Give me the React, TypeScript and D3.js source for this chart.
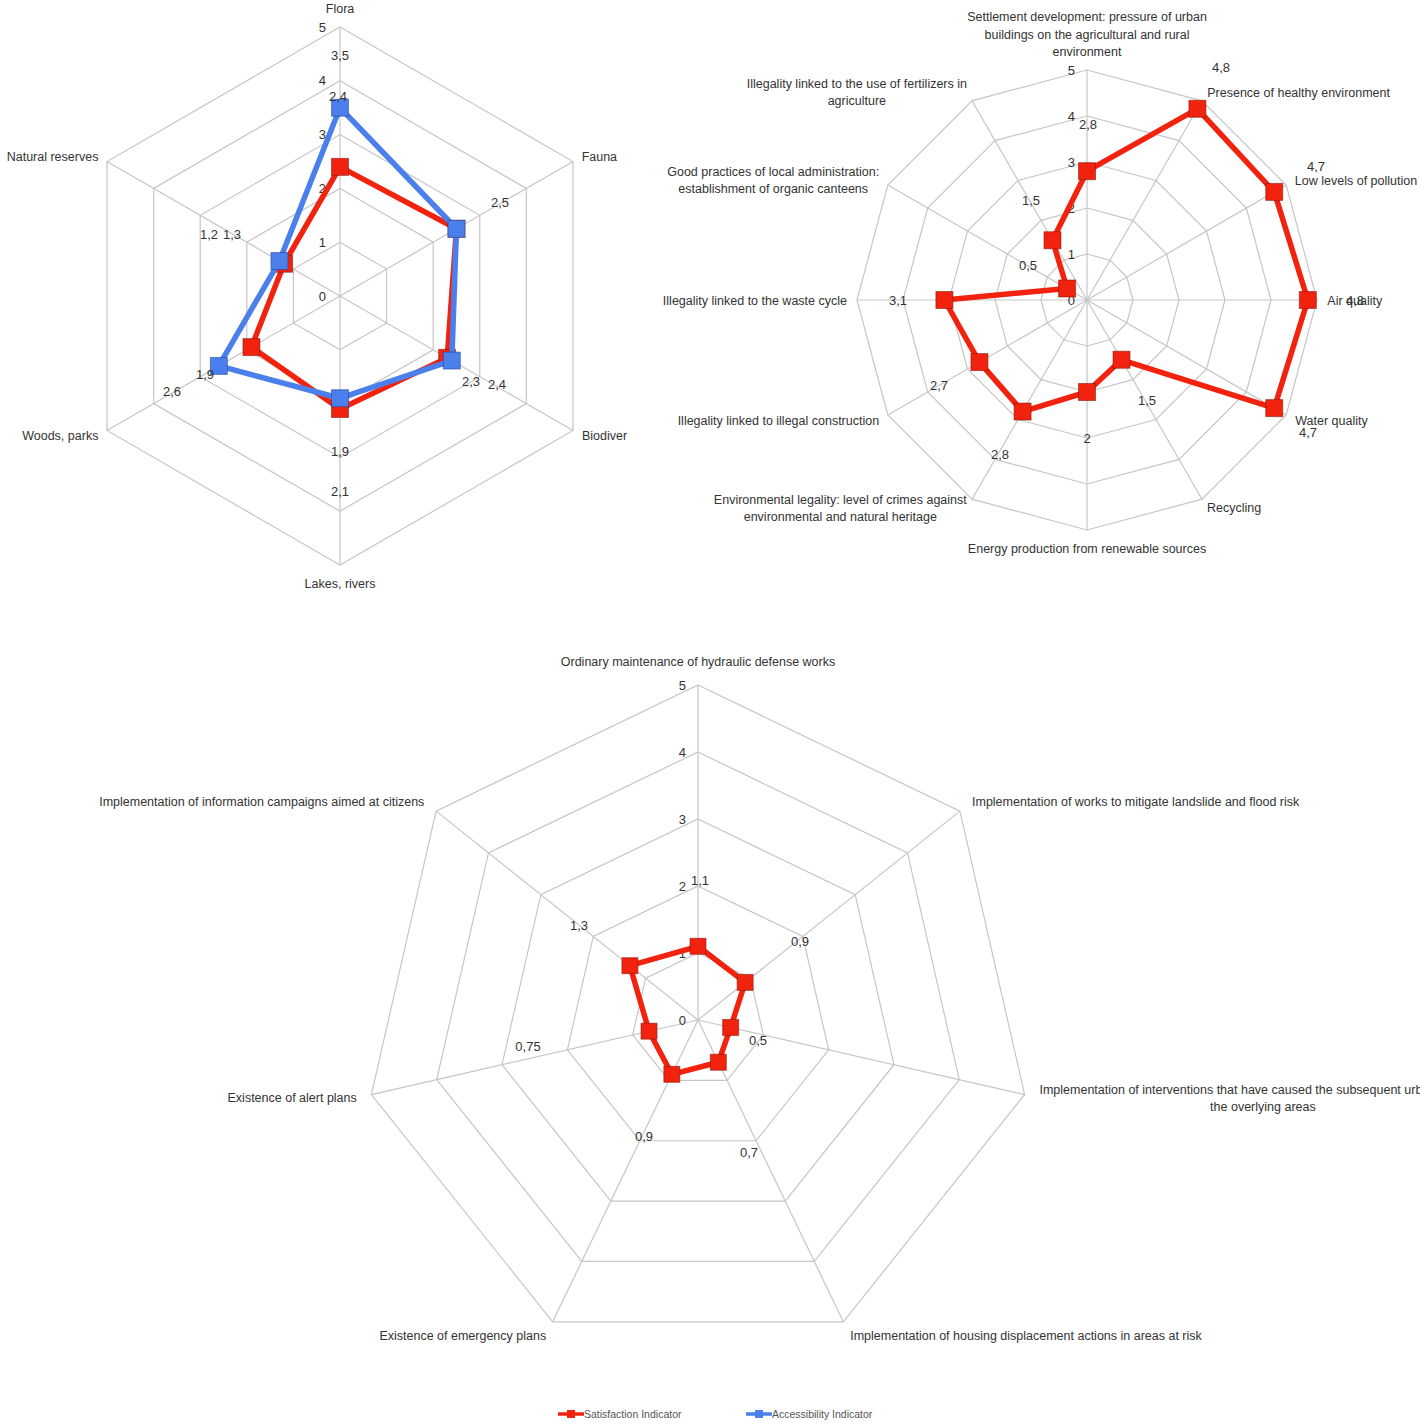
import React, { useEffect, useRef } from "react";
import * as d3 from "d3";

// ---- data ----
const ringValues = [1, 2, 3, 4, 5];
const tickValues = [0, 1, 2, 3, 4, 5];

const natureAxes = [
  ["Flora"],
  ["Fauna"],
  ["Biodiversity"],
  ["Lakes, rivers"],
  ["Woods, parks"],
  ["Natural reserves"],
];
const natureSatisfaction = [2.4, 2.5, 2.3, 2.1, 1.9, 1.2];
const natureAccessibility = [3.5, 2.5, 2.4, 1.9, 2.6, 1.3];

const envAxes = [
  ["Settlement development: pressure of urban", "buildings on the agricultural and rural", "environment"],
  ["Presence of healthy environment"],
  ["Low levels of pollution"],
  ["Air quality"],
  ["Water quality"],
  ["Recycling"],
  ["Energy production from renewable sources"],
  ["Environmental legality: level of crimes against", "environmental and natural heritage"],
  ["Illegality linked to illegal construction"],
  ["Illegality linked to the waste cycle"],
  ["Good practices of local administration:", "establishment of organic canteens"],
  ["Illegality linked to the use of fertilizers in", "agriculture"],
];
const envSatisfaction = [2.8, 4.8, 4.7, 4.8, 4.7, 1.5, 2, 2.8, 2.7, 3.1, 0.5, 1.5];

const riskAxes = [
  ["Ordinary maintenance of hydraulic defense works"],
  ["Implementation of works to mitigate landslide and flood risk"],
  ["Implementation of interventions that have caused the subsequent urbanization of", "the overlying areas"],
  ["Implementation of housing displacement actions in areas at risk"],
  ["Existence of emergency plans"],
  ["Existence of alert plans"],
  ["Implementation of information campaigns aimed at citizens"],
];
const riskSatisfaction = [1.1, 0.9, 0.5, 0.7, 0.9, 0.75, 1.3];

const legendNames = ["Satisfaction Indicator", "Accessibility Indicator"];

// ---- layout (data label offsets from chart centre, px) ----
const natureSatLabelPos = [[-2, -200], [160, -94], [131, 85], [0, 195], [-135, 78], [-131, -62]];
const natureAccLabelPos = [[0, -241], null, [157, 88], [0, 155], [-168, 95], [-108, -62]];
const envLabelPos = [[1, -176], [134, -233], [229, -134], [268, 0], [221, 132], [60, 100], [0, 138], [-87, 154], [-148, 85], [-189, 0], [-59, -35], [-56, -100]];
const riskLabelPos = [[2, -140], [102, -79], [60, 20], [51, 132], [-54, 116], [-170, 26], [-119, -95]];

const RED = "#f1230f";
const BLUE = "#4a7fec";
const GRID = "#c6c6c6";
const TEXT = "#333";
const FONT = "'Liberation Sans', Arial, sans-serif";

const fmt = (v: number) => String(v).replace(".", ",");

type Series = { values: number[]; color: string; edge: string; labelPos: (number[] | null)[] };
type Panel = {
  cx: number; cy: number; radius: number; gap: number; clipW?: number;
  axes: string[][]; series: Series[]; marker: number; tickX: number;
};

const panels: Panel[] = [
  {
    cx: 340, cy: 296, radius: 269, gap: 10, clipW: 627, axes: natureAxes, marker: 17, tickX: 14,
    series: [
      { values: natureSatisfaction, color: RED, edge: "rgba(130,20,10,0.55)", labelPos: natureSatLabelPos },
      { values: natureAccessibility, color: BLUE, edge: "rgba(30,60,140,0.5)", labelPos: natureAccLabelPos },
    ],
  },
  {
    cx: 1087, cy: 300, radius: 230, gap: 10, axes: envAxes, marker: 17, tickX: 12,
    series: [{ values: envSatisfaction, color: RED, edge: "rgba(130,20,10,0.55)", labelPos: envLabelPos }],
  },
  {
    cx: 698, cy: 1020, radius: 335, gap: 15, axes: riskAxes, marker: 16, tickX: 12,
    series: [{ values: riskSatisfaction, color: RED, edge: "rgba(130,20,10,0.55)", labelPos: riskLabelPos }],
  },
];

function drawRadar(svg: d3.Selection<SVGSVGElement, unknown, null, undefined>, p: Panel, idx: number) {
  const n = p.axes.length;
  const angle = d3.scaleLinear().domain([0, n]).range([0, 2 * Math.PI]);
  const r = d3.scaleLinear().domain([0, 5]).range([0, p.radius]);
  const pt = (i: number, v: number): [number, number] => [
    Math.sin(angle(i)) * r(v),
    -Math.cos(angle(i)) * r(v),
  ];

  let root: any = svg.append("g");
  if (p.clipW) {
    svg.append("clipPath").attr("id", "clip" + idx).append("rect").attr("width", p.clipW).attr("height", 620);
    root.attr("clip-path", `url(#clip${idx})`);
  }
  const g = root.append("g").attr("transform", `translate(${p.cx},${p.cy})`);

  const closed = d3.line().curve(d3.curveLinearClosed);
  g.selectAll(".ring")
    .data(ringValues)
    .join("path")
    .attr("d", (v: number) => closed(d3.range(n).map((i) => pt(i, v))))
    .attr("fill", "none")
    .attr("stroke", GRID)
    .attr("stroke-width", 1.2);

  g.selectAll(".spoke")
    .data(d3.range(n))
    .join("line")
    .attr("x1", 0)
    .attr("y1", 0)
    .attr("x2", (i: number) => pt(i, 5)[0])
    .attr("y2", (i: number) => pt(i, 5)[1])
    .attr("stroke", GRID)
    .attr("stroke-width", 1.2);

  g.selectAll(".tick")
    .data(tickValues)
    .join("text")
    .attr("x", -p.tickX)
    .attr("y", (v: number) => -r(v) + 4.5)
    .attr("text-anchor", "end")
    .attr("font-size", 13)
    .attr("fill", TEXT)
    .text((v: number) => v);

  // axis labels
  const fs = 12.5;
  const lh = 17.5;
  p.axes.forEach((lines, i) => {
    const a = angle(i);
    const s = Math.sin(a);
    const c = Math.cos(a);
    const [vx, vy] = pt(i, 5);
    const ax = vx + s * p.gap;
    const ay = vy - c * p.gap;
    const t = g.append("text").attr("font-size", fs).attr("fill", TEXT).attr("text-anchor", "middle");
    const k = lines.length;
    let firstBase: number;
    if (Math.abs(s) < 0.05 && c > 0) firstBase = ay - 4 - (k - 1) * lh;
    else if (Math.abs(s) < 0.05) firstBase = ay + 12.5;
    else firstBase = ay - ((k - 1) * lh) / 2 + 4.5;
    lines.forEach((ln, j) => {
      t.append("tspan").attr("x", 0).attr("y", firstBase + j * lh).text(ln);
    });
    const w = (t.node() as SVGTextElement).getBBox().width;
    let cx = ax;
    if (s > 0.05) cx = ax + w / 2;
    else if (s < -0.05) cx = ax - w / 2;
    t.selectAll("tspan").attr("x", cx);
  });

  // series
  const ln = d3.line().curve(d3.curveLinearClosed);
  p.series.forEach((se) => {
    const pts = se.values.map((v, i) => pt(i, v));
    g.append("path")
      .attr("d", ln(pts))
      .attr("fill", "none")
      .attr("stroke", se.color)
      .attr("stroke-width", 5.5)
      .attr("stroke-linejoin", "round");
    g.selectAll(null)
      .data(pts)
      .join("rect")
      .attr("x", (d: number[]) => d[0] - p.marker / 2)
      .attr("y", (d: number[]) => d[1] - p.marker / 2)
      .attr("width", p.marker)
      .attr("height", p.marker)
      .attr("fill", se.color)
      .attr("stroke", se.edge)
      .attr("stroke-width", 1);
  });
  p.series.forEach((se) => {
    se.values.forEach((v, i) => {
      const pos = se.labelPos[i];
      if (!pos) return;
      g.append("text")
        .attr("x", pos[0])
        .attr("y", pos[1] + 4.5)
        .attr("text-anchor", "middle")
        .attr("font-size", 13)
        .attr("fill", TEXT)
        .text(fmt(v));
    });
  });
}

function drawLegend(svg: d3.Selection<SVGSVGElement, unknown, null, undefined>) {
  const colors = [RED, BLUE];
  const x = d3.scalePoint().domain(legendNames).range([558, 746]);
  const items = svg
    .append("g")
    .selectAll("g")
    .data(legendNames)
    .join("g")
    .attr("transform", (d) => `translate(${x(d)},1414)`);
  items.append("line").attr("x1", 0).attr("x2", 26).attr("stroke", (_d, i) => colors[i]).attr("stroke-width", 3.5);
  items.append("rect").attr("x", 9).attr("y", -4).attr("width", 8).attr("height", 8).attr("fill", (_d, i) => colors[i]);
  items
    .append("text")
    .attr("x", 26)
    .attr("y", 3.5)
    .attr("font-size", 10.5)
    .attr("fill", "#555")
    .text((d) => d);
}

export default function App() {
  const ref = useRef<SVGSVGElement>(null);
  useEffect(() => {
    const svg = d3.select(ref.current as SVGSVGElement);
    svg.selectAll("*").remove();
    panels.forEach((p, i) => drawRadar(svg, p, i));
    drawLegend(svg);
  }, []);
  return (
    <svg
      ref={ref}
      width={1420}
      height={1424}
      style={{ position: "absolute", left: 0, top: 0, background: "#fff", fontFamily: FONT }}
    />
  );
}
